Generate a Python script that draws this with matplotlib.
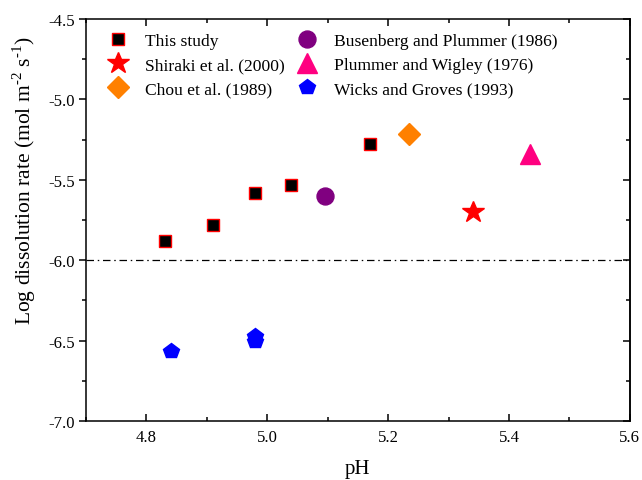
import matplotlib
matplotlib.use("Agg")
import matplotlib.pyplot as plt
from matplotlib.ticker import MultipleLocator, FormatStrFormatter

plt.rcParams['font.family'] = ['Liberation Serif', 'DejaVu Serif']
plt.rcParams['mathtext.fontset'] = 'custom'
plt.rcParams['mathtext.rm'] = 'Liberation Serif'
plt.rcParams['axes.unicode_minus'] = False

# This study
this_ph = [4.83, 4.91, 4.98, 5.04, 5.17]
this_rate = [-5.88, -5.78, -5.58, -5.53, -5.28]

# literature values
shiraki_ph = [5.34]
shiraki_rate = [-5.70]
chou_ph = [5.235]
chou_rate = [-5.215]
busenberg_ph = [5.095]
busenberg_rate = [-5.60]
plummer_ph = [5.435]
plummer_rate = [-5.34]
wicks_ph = [4.84, 4.98, 4.98]
wicks_rate = [-6.565, -6.47, -6.50]

threshold = -6.0

fig = plt.figure(figsize=(6.42, 4.81), dpi=100)
ax = fig.add_axes([0.134, 0.1227, 0.847, 0.8357])

ax.axhline(threshold, color='black', lw=0.9, linestyle=(0, (6, 3, 1.2, 3)), zorder=1)

ax.plot(this_ph, this_rate, 's', ms=8, mfc='black', mec='red', mew=1.0,
        linestyle='none', label='This study', zorder=3)
ax.plot(shiraki_ph, shiraki_rate, '*', ms=16.5, color='#FF0000', mec='#FF0000',
        linestyle='none', label='Shiraki et al. (2000)', zorder=3)
ax.plot(chou_ph, chou_rate, 'D', ms=11, color='#FF8000', mec='#FF8000',
        linestyle='none', label='Chou et al. (1989)', zorder=3)
ax.plot(busenberg_ph, busenberg_rate, 'o', ms=12.2, color='#800080', mec='#800080',
        linestyle='none', label='Busenberg and Plummer (1986)', zorder=3)
ax.plot(plummer_ph, plummer_rate, '^', ms=14, color='#FF0080', mec='#FF0080',
        linestyle='none', label='Plummer and Wigley (1976)', zorder=3)
ax.plot(wicks_ph, wicks_rate, 'p', ms=11.5, color='#0000FF', mec='#0000FF',
        linestyle='none', label='Wicks and Groves (1993)', zorder=3)

ax.set_xlim(4.7, 5.6)
ax.set_ylim(-7.0, -4.5)
ax.xaxis.set_major_locator(MultipleLocator(0.2))
ax.xaxis.set_minor_locator(MultipleLocator(0.1))
ax.yaxis.set_major_locator(MultipleLocator(0.5))
ax.yaxis.set_minor_locator(MultipleLocator(0.25))
ax.xaxis.set_major_formatter(FormatStrFormatter('%.1f'))
ax.yaxis.set_major_formatter(FormatStrFormatter('%.1f'))

for s in ax.spines.values():
    s.set_linewidth(1.1)

ax.tick_params(axis='x', which='major', direction='in', length=5, width=1.1,
               labelsize=12, pad=6, top=True)
ax.tick_params(axis='x', which='minor', direction='in', length=3, width=1.1, top=True)
ax.tick_params(axis='y', which='major', direction='out', length=5, width=1.1,
               labelsize=12, pad=3)
ax.tick_params(axis='y', which='minor', direction='out', length=3, width=1.1)

# right-hand ticks point inward
sec = ax.secondary_yaxis('right')
sec.yaxis.set_major_locator(MultipleLocator(0.5))
sec.yaxis.set_minor_locator(MultipleLocator(0.25))
sec.tick_params(which='major', direction='in', length=5, width=1.1, labelright=False)
sec.tick_params(which='minor', direction='in', length=3, width=1.1)
sec.spines['right'].set_linewidth(1.1)

ax.set_xlabel('pH', fontsize=15, labelpad=10)
ax.set_ylabel('Log dissolution rate (mol m$^{\u20102}$ s$^{\u20101}$)', fontsize=15.5)
ax.yaxis.set_label_coords(-0.088, 0.6)

ax.legend(loc='upper left', bbox_to_anchor=(0.0, 1.0), ncol=2, frameon=False,
          fontsize=12.6, handletextpad=0.55, columnspacing=0.3, labelspacing=0.45,
          borderaxespad=0.4, numpoints=1)

fig.savefig('out.png', dpi=100)
